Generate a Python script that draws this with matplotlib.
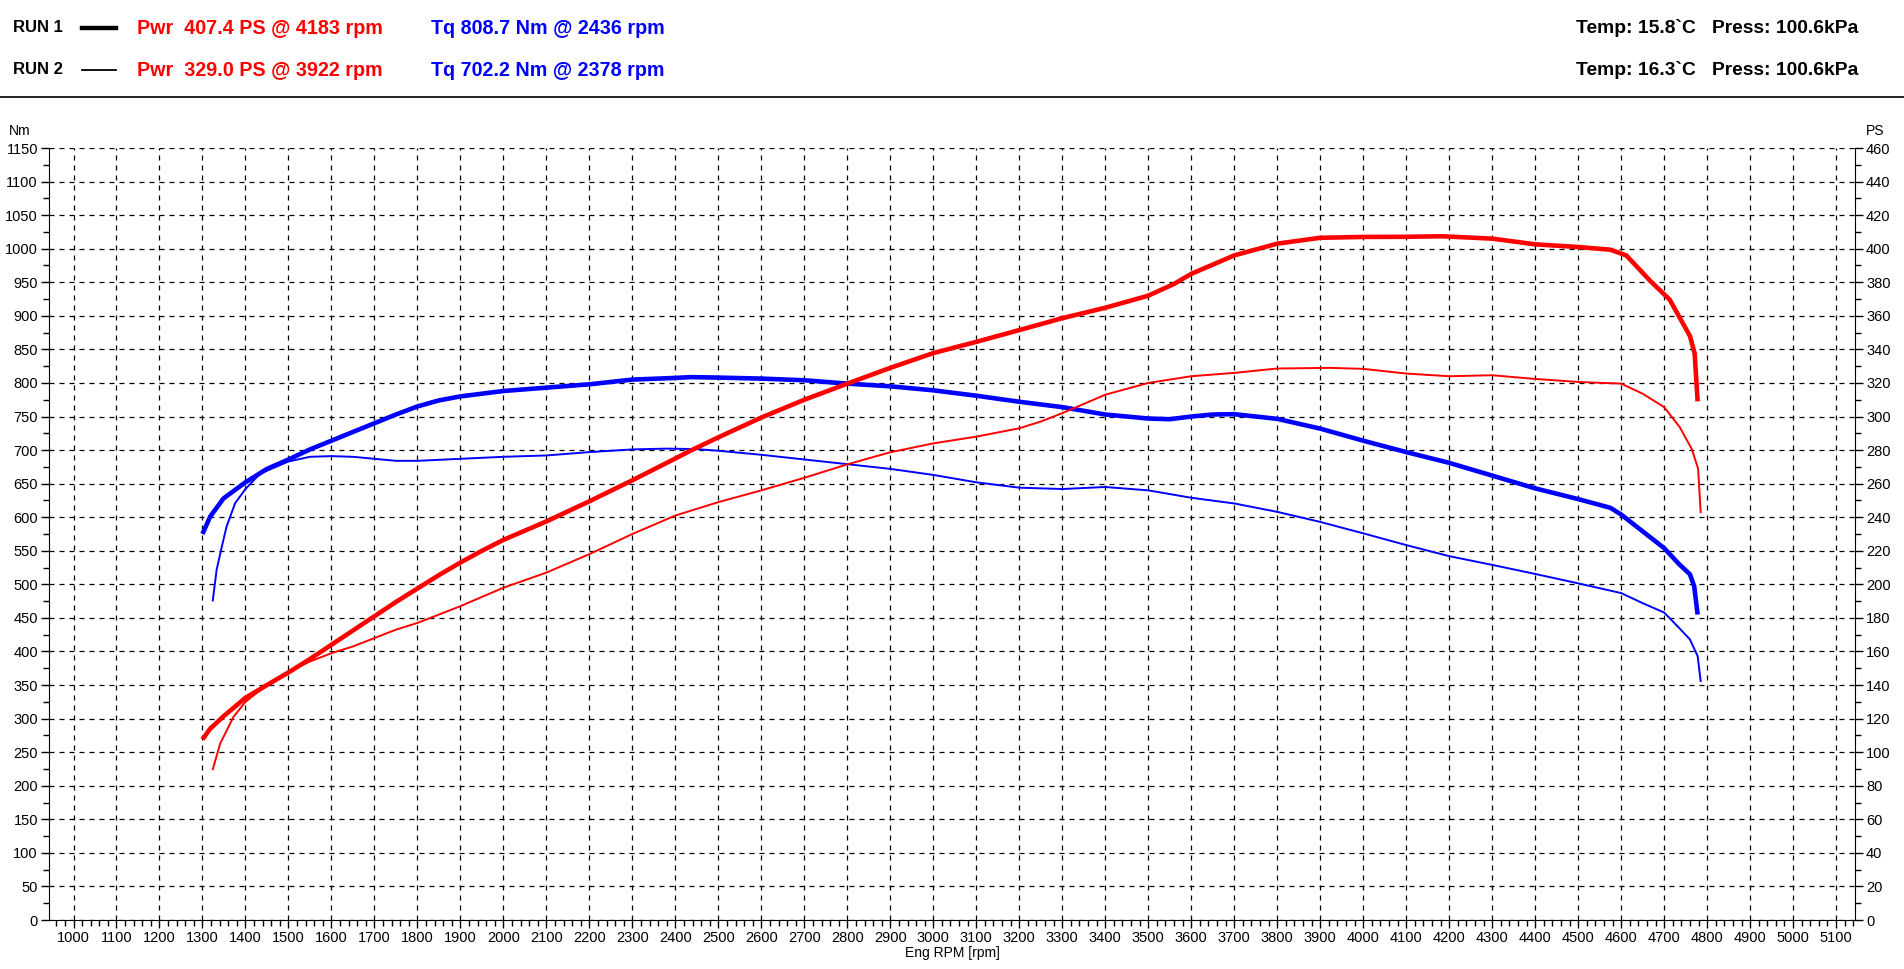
import matplotlib
matplotlib.use("Agg")
import matplotlib.pyplot as plt
from matplotlib.lines import Line2D
from matplotlib.ticker import MultipleLocator

# run 1 torque [Nm]
rpm_tq1 = [1300, 1318, 1349, 1400, 1450, 1500, 1550, 1600, 1650, 1700, 1750, 1800, 1850,
           1900, 2000, 2100, 2200, 2300, 2400, 2436, 2500, 2600, 2700, 2800, 2900, 3000,
           3100, 3200, 3300, 3400, 3500, 3550, 3600, 3650, 3700, 3800, 3900, 4000, 4100,
           4200, 4300, 4400, 4500, 4575, 4600, 4650, 4700, 4735, 4760, 4770, 4778]
tq1 = [575, 601, 628, 652, 672, 686, 701, 714, 727, 740, 753, 765, 774,
       780, 788, 793, 798, 805, 807.5, 808.7, 808, 806.5, 804, 799, 795, 789,
       781, 772, 764, 753, 747, 746, 750, 753, 753.5, 746.5, 732, 714, 697,
       681, 662, 643, 627, 614, 604, 579, 554, 530, 515, 497, 455]

# run 2 torque [Nm]
rpm_tq2 = [1324, 1333, 1345, 1356, 1376, 1400, 1434, 1500, 1550, 1600, 1650, 1700, 1750,
           1800, 1900, 2000, 2100, 2200, 2300, 2378, 2450, 2500, 2600, 2700, 2800, 2900,
           3000, 3100, 3200, 3300, 3400, 3500, 3600, 3700, 3800, 3900, 4000, 4100, 4200,
           4300, 4400, 4500, 4600, 4650, 4700, 4735, 4760, 4778, 4785]
tq2 = [476, 522, 556, 586, 621, 642, 665, 683, 690, 691, 690, 687, 684,
       684, 687, 690, 692, 697, 701, 702.2, 701.5, 699, 693, 686, 679, 672,
       663, 652, 644, 642, 645, 640, 629, 620.5, 608, 593, 576, 558.5, 542,
       529, 515.5, 501.5, 487, 472, 458, 435, 418, 393, 356]

# run 1 power [PS]
rpm_pw1 = [1300, 1318, 1349, 1400, 1450, 1500, 1550, 1600, 1650, 1700, 1750, 1800, 1850,
           1900, 1950, 2000, 2100, 2200, 2300, 2400, 2434, 2500, 2600, 2700, 2800, 2900,
           3000, 3100, 3200, 3300, 3400, 3500, 3560, 3600, 3650, 3700, 3800, 3900, 4000,
           4100, 4183, 4300, 4400, 4500, 4575, 4612, 4667, 4713, 4736, 4760, 4771, 4778]
pw1 = [107.6, 114, 121.4, 132.4, 140, 147.5, 155.5, 164, 172.5, 181, 189.5, 197.5, 205.5,
       213, 220, 226.5, 237.5, 249.5, 262, 275, 279.5, 287.6, 299.4, 310, 319.6, 329,
       337.8, 344.5, 351.5, 358.6, 364.8, 372, 379, 385, 390.5, 396, 403, 406.5, 407.0,
       407.1, 407.4, 406, 402.6, 401, 399.4, 396, 381, 369.6, 359, 348, 337.6, 309]

# run 2 power [PS]
rpm_pw2 = [1324, 1341, 1372, 1400, 1450, 1500, 1550, 1600, 1650, 1700, 1750, 1800, 1900,
           2000, 2100, 2200, 2300, 2400, 2500, 2600, 2700, 2800, 2900, 3000, 3100, 3200,
           3250, 3300, 3400, 3500, 3600, 3700, 3800, 3922, 4000, 4100, 4200, 4300, 4400,
           4500, 4600, 4650, 4700, 4736, 4764, 4779, 4785]
pw2 = [89.8, 105, 121, 130, 140, 148, 154, 159, 163, 168, 173, 177, 187,
       198, 207, 218, 230, 241, 249, 256, 263.5, 271.5, 278.7, 284, 288, 293,
       297, 302, 313, 320, 324, 326, 328.6, 329.0, 328.4, 325.6, 324, 324.6, 322.4,
       320.6, 319.6, 313.6, 305.6, 293.8, 280.8, 269, 243]

run_labels = ["RUN 1", "RUN 2"]
pwr_texts = ["Pwr  407.4 PS @ 4183 rpm", "Pwr  329.0 PS @ 3922 rpm"]
tq_texts = ["Tq 808.7 Nm @ 2436 rpm", "Tq 702.2 Nm @ 2378 rpm"]
env_texts = ["Temp: 15.8`C   Press: 100.6kPa", "Temp: 16.3`C   Press: 100.6kPa"]

FONT = ["Liberation Sans Narrow", "Liberation Sans", "DejaVu Sans"]
plt.rcParams["font.family"] = FONT

W, H = 1904, 969
fig = plt.figure(figsize=(W / 100, H / 100), dpi=100)
fig.patch.set_facecolor("white")


def px(x, y):
    return x / W, 1 - y / H


ax = fig.add_axes([49 / W, 49 / H, (1855 - 49) / W, (920 - 148) / H])
ax2 = ax.twinx()

# grid + axes
ax.set_xlim(943, 5144)
ax.set_ylim(0, 1150)
ax2.set_ylim(0, 460)
ax.xaxis.set_major_locator(MultipleLocator(100))
ax.xaxis.set_minor_locator(MultipleLocator(20))
ax.yaxis.set_major_locator(MultipleLocator(50))
ax.yaxis.set_minor_locator(MultipleLocator(25))
ax2.yaxis.set_major_locator(MultipleLocator(20))
ax2.yaxis.set_minor_locator(MultipleLocator(10))
ax.grid(True, which="major", color="black", linestyle=(0, (4, 4)), linewidth=0.9)
ax.set_xticks(range(1000, 5101, 100))

for a in (ax, ax2):
    a.spines["top"].set_visible(False)
    a.tick_params(which="major", direction="out", length=6, width=1, labelsize=10.5, pad=2)
    a.tick_params(which="minor", direction="out", length=4, width=1)
ax.spines["right"].set_visible(False)
ax2.spines["left"].set_visible(False)
ax2.spines["bottom"].set_visible(False)

ax.set_xlabel("Eng RPM [rpm]", fontsize=10, labelpad=1)
fig.text(*px(9, 131), "Nm", fontsize=10, va="center", ha="left")
fig.text(*px(1866, 131), "PS", fontsize=10, va="center", ha="left")

# curves
ax.plot(rpm_tq1, tq1, color="#0000ff", linewidth=3.3, solid_capstyle="butt", zorder=4)
ax.plot(rpm_tq2, tq2, color="#0000ff", linewidth=1.4, zorder=4)
ax2.plot(rpm_pw1, pw1, color="#ff0000", linewidth=3.3, solid_capstyle="butt", zorder=4)
ax2.plot(rpm_pw2, pw2, color="#ff0000", linewidth=1.4, zorder=4)

# header
rows_y = [28, 70]
sample_w = [3.2, 1.3]
for i in range(2):
    y = rows_y[i]
    fig.text(*px(13, y), run_labels[i], fontsize=12, fontweight="bold", color="black",
             va="center", ha="left")
    fig.add_artist(Line2D([82 / W, 116 / W], [1 - y / H, 1 - y / H],
                          color="black", linewidth=sample_w[i]))
    fig.text(*px(137, y), pwr_texts[i], fontsize=14.2, fontweight="bold", color="#ff0000",
             va="center", ha="left")
    fig.text(*px(431, y), tq_texts[i], fontsize=14.2, fontweight="bold", color="#0000ff",
             va="center", ha="left")
    fig.text(*px(1858, y), env_texts[i], fontsize=13.9, fontweight="bold", color="black",
             va="center", ha="right")

fig.add_artist(Line2D([0, 1], [1 - 97 / H, 1 - 97 / H], color="black", linewidth=1.2))

fig.savefig("out.png", dpi=100)
